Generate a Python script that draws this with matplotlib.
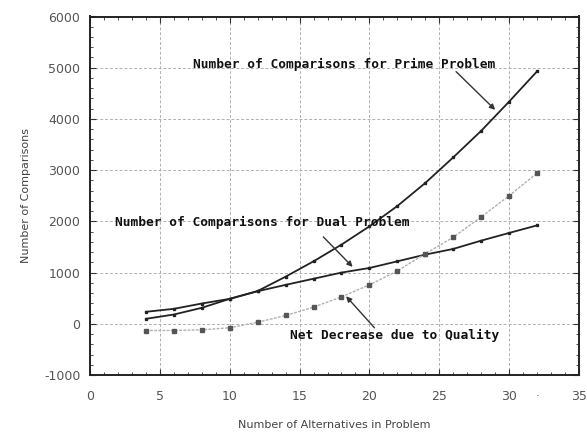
import matplotlib
matplotlib.use("Agg")
import matplotlib.pyplot as plt
from matplotlib.ticker import MultipleLocator

alternatives = [4, 6, 8, 10, 12, 14, 16, 18, 20, 22, 24, 26, 28, 30, 32]
prime_comparisons = [97, 181, 312, 487, 640, 920, 1220, 1546, 1903, 2300, 2750, 3250, 3768, 4339, 4930]
dual_comparisons = [234, 292, 396, 487, 636, 760, 880, 1000, 1090, 1220, 1351, 1462, 1624, 1774, 1922]
net_decrease = [-131, -131, -118, -78, 31, 162, 324, 526, 760, 1033, 1370, 1690, 2086, 2500, 2945]

x_ticks = [0, 5, 10, 15, 20, 25, 30, 35]
y_ticks = [-1000, 0, 1000, 2000, 3000, 4000, 5000, 6000]

label_prime = "Number of Comparisons for Prime Problem"
label_dual = "Number of Comparisons for Dual Problem"
label_net = "Net Decrease due to Quality"
x_label = "Number of Alternatives in Problem"
y_label = "Number of Comparisons"

plt.rcParams["axes.unicode_minus"] = False

fig = plt.figure(figsize=(5.87, 4.40), dpi=100)
ax = fig.add_axes([0.1533, 0.1477, 0.8331, 0.8148])

ax.plot(alternatives, prime_comparisons, color="#222222", lw=1.3, marker="s", ms=2.0, zorder=3)
ax.plot(alternatives, dual_comparisons, color="#222222", lw=1.3, marker="s", ms=2.0, zorder=3)
ax.plot(alternatives, net_decrease, color="#b0b0b0", lw=1.0, ls=(0, (2, 1)), marker="s", ms=2.4,
        mfc="#555555", mec="#555555", zorder=3)

ax.set_xlim(0, 35)
ax.set_ylim(-1000, 6000)
ax.set_xticks(x_ticks)
ax.set_yticks(y_ticks)
ax.xaxis.set_minor_locator(MultipleLocator(1))
ax.yaxis.set_minor_locator(MultipleLocator(200))
ax.tick_params(which="both", direction="in", top=True, right=True, color="#333333")
ax.tick_params(which="major", length=4, width=0.8)
ax.tick_params(which="minor", length=2.5, width=0.6)
ax.tick_params(axis="x", which="major", pad=11, labelsize=9, labelcolor="#555555")
ax.tick_params(axis="y", which="major", pad=7, labelsize=9, labelcolor="#555555")
ax.grid(True, which="major", color="#b0b0b0", ls=(0, (3, 2)), lw=0.7)
for s in ax.spines.values():
    s.set_linewidth(1.4)
    s.set_color("#222222")

ax.set_xlabel(x_label, fontsize=8, color="#444444", labelpad=12)
ax.set_ylabel(y_label, fontsize=8, color="#444444", labelpad=9)

mono = dict(family="DejaVu Sans Mono", fontsize=9.3, fontweight="bold", color="#111111")
arrow = dict(arrowstyle="-|>", color="#333333", lw=1.0, mutation_scale=8, shrinkA=0, shrinkB=0)

ax.text(7.4, 5060, label_prime, ha="left", va="center", **mono)
ax.annotate("", xy=(29.0, 4177), xytext=(26.2, 4924), arrowprops=arrow)

ax.text(1.8, 1970, label_dual, ha="left", va="center", **mono)
ax.annotate("", xy=(18.8, 1111), xytext=(16.7, 1696), arrowprops=arrow)

ax.text(14.3, -222, label_net, ha="left", va="center", **mono)
ax.annotate("", xy=(18.33, 538), xytext=(20.36, -78), arrowprops=arrow)

ax.text(32.0, -1420, "·", ha="center", va="center", fontsize=8, color="#555555", clip_on=False)

fig.savefig("out.png", dpi=100)
